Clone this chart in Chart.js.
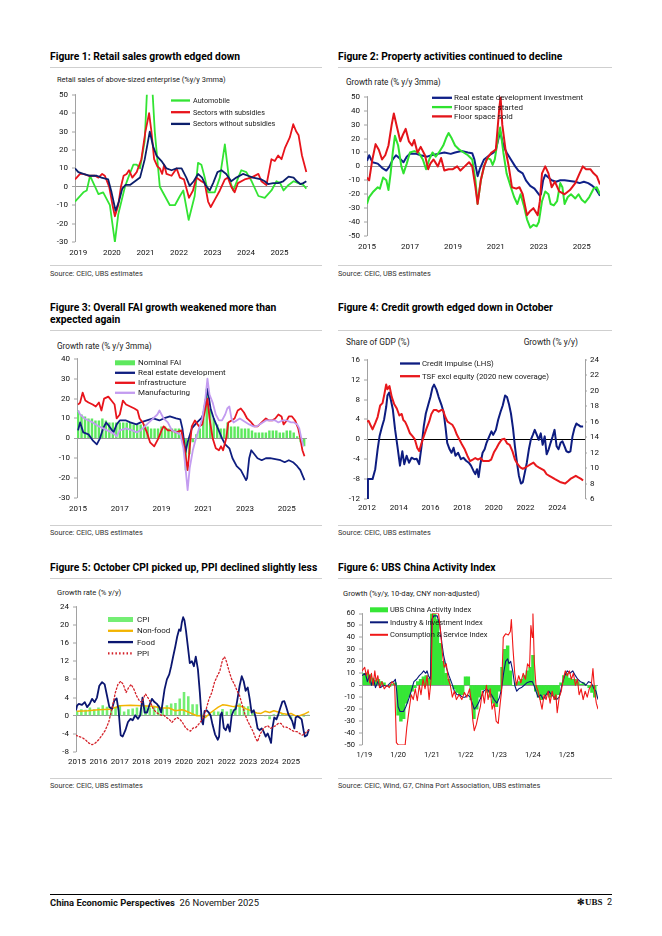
<!DOCTYPE html>
<html>
<head>
<meta charset="utf-8">
<title>China Economic Perspectives</title>
<script src="https://cdn.jsdelivr.net/npm/chart.js@4.4.1/dist/chart.umd.min.js"></script>
<style>
  html, body { margin: 0; padding: 0; background: #fff; }
  body { position: relative; width: 662px; height: 936px; overflow: hidden; font-family: Roboto, 'Liberation Sans', sans-serif; color: #111; }
  .abs { position: absolute; white-space: nowrap; line-height: 1; }
  .ttl { font-weight: 700; font-size: 10.3px; color: #000; }
  .sub { font-size: 7.9px; color: #222; }
  .src { font-size: 7.3px; color: #333; }
  .rule { position: absolute; height: 0; border-top: 1px solid #cfcfcf; }
  canvas { position: absolute; }
</style>
</head>
<body>

<!-- row 1 -->
<div class="abs ttl" style="left:50px;top:52px">Figure 1: Retail sales growth edged down</div>
<div class="rule" style="left:50px;top:67px;width:272px"></div>
<div class="abs sub" style="left:57px;top:75.5px;font-size:7.45px">Retail sales of above-sized enterprise (%y/y 3mma)</div>
<canvas id="c1" width="264" height="170" style="left:48px;top:86px"></canvas>
<div class="rule" style="left:50px;top:265px;width:272px"></div>
<div class="abs src" style="left:50px;top:270px">Source: CEIC, UBS estimates</div>

<div class="abs ttl" style="left:338px;top:52px">Figure 2: Property activities continued to decline</div>
<div class="rule" style="left:338px;top:67px;width:274px"></div>
<div class="abs sub" style="left:346px;top:77.5px;font-size:8.2px">Growth rate (% y/y 3mma)</div>
<canvas id="c2" width="268" height="163" style="left:336px;top:88px"></canvas>
<div class="rule" style="left:338px;top:265px;width:274px"></div>
<div class="abs src" style="left:338px;top:270px">Source: CEIC, UBS estimates</div>

<!-- row 2 -->
<div class="abs ttl" style="left:50px;top:302px;line-height:12px">Figure 3: Overall FAI growth weakened more than<br>expected again</div>
<div class="rule" style="left:50px;top:330px;width:272px"></div>
<div class="abs sub" style="left:57px;top:341.5px;font-size:8.2px">Growth rate (% y/y 3mma)</div>
<canvas id="c3" width="263" height="162" style="left:48px;top:350px"></canvas>
<div class="rule" style="left:50px;top:525px;width:272px"></div>
<div class="abs src" style="left:50px;top:529px">Source: CEIC, UBS estimates</div>

<div class="abs ttl" style="left:338px;top:303px">Figure 4: Credit growth edged down in October</div>
<div class="rule" style="left:338px;top:330px;width:274px"></div>
<div class="abs sub" style="left:346px;top:337.5px;font-size:8.4px">Share of GDP (%)</div>
<div class="abs sub" style="right:84px;top:337.5px;font-size:8.4px">Growth (% y/y)</div>
<canvas id="c4" width="279" height="162" style="left:336px;top:351px"></canvas>
<div class="rule" style="left:338px;top:525px;width:274px"></div>
<div class="abs src" style="left:338px;top:529px">Source: CEIC, UBS estimates</div>

<!-- row 3 -->
<div class="abs ttl" style="left:50px;top:563px">Figure 5: October CPI picked up, PPI declined slightly less</div>
<div class="rule" style="left:50px;top:578px;width:272px"></div>
<div class="abs sub" style="left:57px;top:588.5px;font-size:7.6px">Growth rate (% y/y)</div>
<canvas id="c5" width="266" height="168" style="left:48px;top:598px"></canvas>
<div class="rule" style="left:50px;top:778px;width:272px"></div>
<div class="abs src" style="left:50px;top:782px">Source: CEIC, UBS estimates</div>

<div class="abs ttl" style="left:338px;top:563px">Figure 6: UBS China Activity Index</div>
<div class="rule" style="left:338px;top:578px;width:274px"></div>
<div class="abs sub" style="left:343px;top:589.5px;font-size:7.6px">Growth (%y/y, 10-day, CNY non-adjusted)</div>
<canvas id="c6" width="266" height="154" style="left:336px;top:605px"></canvas>
<div class="rule" style="left:338px;top:778px;width:274px"></div>
<div class="abs src" style="left:338px;top:782px">Source: CEIC, Wind, G7, China Port Association, UBS estimates</div>

<!-- footer -->
<div class="rule" style="left:50px;top:894px;width:562px;border-top-color:#000"></div>
<div class="abs" style="left:50px;top:897.5px;font-size:9.4px"><b>China Economic Perspectives</b>&nbsp; 26 November 2025</div>
<div class="abs" style="right:50px;top:897.5px;font-size:9px"><span style="font-family:'Liberation Serif',serif;font-weight:700">&#10043;UBS</span>&nbsp; 2</div>

<script>
// ---------- Figure 1: retail sales ----------
const f1XTicks = [2019, 2020, 2021, 2022, 2023, 2024, 2025];
const f1XLabels = ['2019', '2020', '2021', '2022', '2023', '2024', '2025'];
const f1YTicks = [-30, -20, -10, 0, 10, 20, 30, 40, 50];
const f1Auto = [[2018.9,-8],[2019.15,-3],[2019.25,-2],[2019.35,6],[2019.6,-4],[2019.74,-3],[2019.94,-10],[2020.09,-30],[2020.19,-15],[2020.39,0],[2020.49,5],[2020.64,12],[2020.74,12],[2020.84,10],[2020.98,25],[2021.08,65],[2021.18,62],[2021.28,30],[2021.38,10],[2021.43,0],[2021.58,-5],[2021.73,-10],[2021.88,-10],[2022.03,-5],[2022.13,-2],[2022.29,-18],[2022.47,-5],[2022.57,13],[2022.67,12],[2022.77,5],[2022.87,-3],[2023.07,-3],[2023.22,5],[2023.37,23],[2023.49,5],[2023.62,-2],[2023.77,5],[2023.86,9],[2024.01,8],[2024.17,3],[2024.37,-5],[2024.56,-6],[2024.76,-2],[2024.91,3],[2025.02,2],[2025.12,-2],[2025.27,1],[2025.42,3],[2025.56,2],[2025.71,1],[2025.8,-1]];
const f1Sub = [[2018.9,4],[2018.95,5],[2019.05,7],[2019.15,7],[2019.3,6],[2019.5,6],[2019.6,5],[2019.71,7],[2019.79,6],[2019.92,0],[2020.02,-10],[2020.09,-16],[2020.19,-10],[2020.27,0],[2020.35,6],[2020.44,7],[2020.51,9],[2020.61,5],[2020.74,8],[2020.88,15],[2021.0,30],[2021.11,40],[2021.18,30],[2021.26,15],[2021.36,11],[2021.43,10],[2021.5,7],[2021.56,12],[2021.63,7],[2021.78,6],[2021.93,10],[2022.03,5],[2022.15,4],[2022.3,-6],[2022.42,-2],[2022.52,5],[2022.67,3],[2022.77,2],[2022.87,-8],[2022.95,-11],[2023.07,-7],[2023.22,-2],[2023.37,4],[2023.46,5],[2023.56,0],[2023.66,-3],[2023.76,2],[2023.96,4],[2024.16,5],[2024.37,7],[2024.46,3],[2024.61,1],[2024.76,15],[2024.86,14],[2024.96,17],[2025.06,15],[2025.16,21],[2025.31,27],[2025.41,34],[2025.5,30],[2025.57,28],[2025.67,17],[2025.8,8]];
const f1NoSub = [[2018.9,10],[2019.0,8],[2019.15,7],[2019.35,6],[2019.55,6],[2019.69,5],[2019.89,4],[2019.99,-3],[2020.11,-13],[2020.21,-8],[2020.31,-1],[2020.41,1],[2020.54,1],[2020.69,3],[2020.84,5],[2020.98,15],[2021.13,30],[2021.23,22],[2021.33,17],[2021.48,14],[2021.63,10],[2021.78,9],[2021.93,10],[2022.08,10],[2022.22,5],[2022.32,0.5],[2022.44,3],[2022.57,7],[2022.69,5],[2022.79,1],[2022.92,-2],[2023.02,2],[2023.15,8],[2023.27,9],[2023.41,7],[2023.56,3],[2023.71,5],[2023.91,7],[2024.06,6],[2024.21,5],[2024.46,4],[2024.56,3],[2024.66,1.5],[2024.81,2],[2024.96,2],[2025.11,3],[2025.27,5.5],[2025.42,5],[2025.52,3],[2025.62,1.5],[2025.71,2],[2025.8,3]];

// ---------- Figure 2: property ----------
const f2XTicks = [2015, 2017, 2019, 2021, 2023, 2025];
const f2XLabels = ['2015', '2017', '2019', '2021', '2023', '2025'];
const f2YTicks = [-50, -40, -30, -20, -10, 0, 10, 20, 30, 40, 50];
const f2Invest = [[2015.0,4],[2015.1,8],[2015.25,3],[2015.5,2],[2015.7,-1],[2015.9,-3],[2016.05,0],[2016.2,5],[2016.35,8],[2016.5,6],[2016.7,3],[2016.85,7],[2017.0,9],[2017.3,9],[2017.5,8],[2017.8,7],[2018.0,8],[2018.3,9],[2018.6,10],[2018.9,9],[2019.1,10],[2019.4,11],[2019.7,10],[2019.9,9.5],[2020.0,5],[2020.15,-7],[2020.25,-2],[2020.45,5],[2020.7,8],[2020.9,10],[2021.0,12],[2021.2,25],[2021.35,15],[2021.5,10],[2021.7,5],[2021.9,0],[2022.05,-3],[2022.25,-5],[2022.4,-10],[2022.6,-14],[2022.8,-16],[2022.95,-19],[2023.05,-21],[2023.1,-20],[2023.2,-10],[2023.3,-6],[2023.45,-8],[2023.6,-10],[2023.8,-11],[2024.0,-10],[2024.2,-10],[2024.45,-10.5],[2024.7,-11],[2024.9,-12],[2025.1,-11],[2025.3,-12],[2025.5,-14],[2025.65,-16],[2025.85,-21]];
const f2Started = [[2015.0,-27],[2015.1,-22],[2015.3,-18],[2015.5,-15],[2015.6,-16],[2015.75,-8],[2015.9,-10],[2016.0,-17],[2016.1,-5],[2016.2,10],[2016.3,22],[2016.45,15],[2016.6,0],[2016.7,-5],[2016.85,2],[2017.0,10],[2017.2,11],[2017.4,10],[2017.6,5],[2017.75,-2],[2017.9,5],[2018.05,10],[2018.2,7],[2018.35,10],[2018.55,15],[2018.7,21],[2018.8,24],[2018.95,20],[2019.1,15],[2019.3,12],[2019.5,10],[2019.7,8],[2019.9,5],[2020.05,-10],[2020.15,-27],[2020.3,-10],[2020.45,0],[2020.6,6],[2020.75,5],[2020.85,1],[2020.95,5],[2021.1,20],[2021.2,28],[2021.35,10],[2021.5,-5],[2021.7,-15],[2021.85,-22],[2022.0,-27],[2022.15,-20],[2022.3,-28],[2022.45,-38],[2022.6,-44],[2022.75,-42],[2022.9,-43],[2023.0,-40],[2023.15,-25],[2023.3,-18],[2023.45,-20],[2023.55,-27],[2023.7,-28],[2023.85,-25],[2024.0,-12],[2024.1,-15],[2024.2,-27],[2024.35,-22],[2024.5,-20],[2024.7,-23],[2024.85,-20],[2025.0,-24],[2025.15,-26],[2025.35,-22],[2025.55,-16],[2025.7,-15],[2025.85,-20]];
const f2Sold = [[2015.0,-8],[2015.1,-10],[2015.25,5],[2015.4,16],[2015.55,12],[2015.7,5],[2015.85,8],[2016.0,15],[2016.15,30],[2016.25,38],[2016.4,28],[2016.55,18],[2016.65,22],[2016.8,27],[2016.95,18],[2017.1,15],[2017.2,19],[2017.35,10],[2017.5,14],[2017.7,8],[2017.85,-2],[2017.95,2],[2018.1,5],[2018.3,0],[2018.45,6],[2018.6,-3],[2018.8,-2],[2019.0,-2],[2019.2,0],[2019.35,-3],[2019.55,0],[2019.75,3],[2019.9,0],[2020.05,-15],[2020.15,-27],[2020.3,-10],[2020.45,0],[2020.6,6],[2020.8,10],[2021.0,12],[2021.15,40],[2021.22,50],[2021.3,30],[2021.45,12],[2021.6,0],[2021.75,-15],[2021.95,-16],[2022.1,-15],[2022.25,-20],[2022.45,-35],[2022.6,-32],[2022.75,-30],[2022.95,-35],[2023.05,-25],[2023.15,-5],[2023.3,0],[2023.45,-5],[2023.6,-15],[2023.75,-11],[2023.95,-18],[2024.2,-20],[2024.45,-17],[2024.7,-12],[2024.9,-5],[2025.05,0],[2025.2,-2],[2025.4,-2],[2025.55,-5],[2025.7,-7],[2025.85,-13]];

// ---------- Figure 3: FAI ----------
const f3XTicks = [2015, 2017, 2019, 2021, 2023, 2025];
const f3XLabels = ['2015', '2017', '2019', '2021', '2023', '2025'];
const f3YTicks = [-30, -20, -10, 0, 10, 20, 30, 40];
const f3FaiStart = 2015, f3FaiStep = 1 / 6; // bimonthly readings
const f3Fai = [14,12,11,10,10,9, 9,10,9,8,8,8, 8,8,8,8,7,7, 7,7,6,5,5,5, 6,6,5,5,5,5, 2,-16,-8,-2,2,5, 10,25,15,10,7,5, 5,8,6,6,6,5, 5,5,4,3,3,3, 3,4,4,4,3,3, 4,4,3,1,-2,-4];
const f3Infra = [[2015.0,17],[2015.1,18],[2015.22,23],[2015.35,19],[2015.5,18],[2015.7,17],[2015.85,16],[2016.0,18],[2016.12,14],[2016.25,20],[2016.45,21],[2016.6,19],[2016.75,17],[2016.85,10],[2017.0,12],[2017.15,19],[2017.3,17],[2017.5,16],[2017.7,15],[2017.85,14],[2017.95,10],[2018.1,8],[2018.3,3],[2018.45,-2],[2018.65,-4],[2018.85,0],[2019.0,4],[2019.1,6],[2019.3,4],[2019.5,4],[2019.7,3],[2019.95,4],[2020.1,-5],[2020.25,-16],[2020.35,-5],[2020.45,6],[2020.6,9],[2020.8,6],[2020.95,7],[2021.1,15],[2021.2,20],[2021.3,10],[2021.45,0],[2021.6,-5],[2021.75,-6],[2021.85,-4],[2021.95,-6],[2022.1,0],[2022.2,8],[2022.35,9],[2022.5,10],[2022.65,14],[2022.8,15],[2022.95,13],[2023.1,10],[2023.3,8],[2023.45,6],[2023.6,6],[2023.8,8],[2024.0,10],[2024.15,9],[2024.3,9],[2024.45,10],[2024.6,12],[2024.75,11],[2024.85,7],[2025.0,9],[2025.1,11],[2025.25,11],[2025.4,9],[2025.55,5],[2025.65,0],[2025.75,-6],[2025.85,-9]];
const f3Manuf = [[2015.0,14],[2015.1,12],[2015.3,10],[2015.5,9],[2015.7,8],[2015.85,7],[2016.0,6],[2016.2,5],[2016.4,4],[2016.6,3],[2016.75,2],[2016.85,1],[2017.0,4],[2017.3,5],[2017.6,4],[2017.8,3],[2018.0,4],[2018.2,6],[2018.4,8],[2018.6,10],[2018.8,12],[2018.9,14],[2019.1,10],[2019.3,8],[2019.5,4],[2019.7,3],[2019.9,2],[2020.05,-5],[2020.15,-15],[2020.25,-26],[2020.35,-15],[2020.5,-6],[2020.65,0],[2020.8,5],[2020.95,10],[2021.1,20],[2021.2,30],[2021.3,22],[2021.45,18],[2021.6,12],[2021.75,9],[2021.9,9],[2022.05,12],[2022.15,15],[2022.25,16],[2022.35,10],[2022.45,8],[2022.6,9],[2022.75,10],[2022.9,9],[2023.05,8],[2023.2,7],[2023.4,6],[2023.55,6],[2023.7,7],[2023.85,8],[2024.0,9],[2024.15,9],[2024.3,9],[2024.45,9],[2024.6,8],[2024.8,9],[2025.0,9],[2025.2,8],[2025.35,8],[2025.5,7],[2025.6,5],[2025.7,0],[2025.8,-4]];

// ---------- Figure 4: credit ----------
const f4XTicks = [2012, 2014, 2016, 2018, 2020, 2022, 2024];
const f4XLabels = ['2012', '2014', '2016', '2018', '2020', '2022', '2024'];
const f4YTicks = [-12, -8, -4, 0, 4, 8, 12, 16];
const f4Y2Ticks = [6, 8, 10, 12, 14, 16, 18, 20, 22, 24];
const f4Impulse = [[2012.0,-12],[2012.06,-8],[2012.21,-8],[2012.35,-8],[2012.52,-6],[2012.67,-2],[2012.79,0.6],[2012.94,2.5],[2013.08,4],[2013.21,6.5],[2013.29,8.8],[2013.4,9.4],[2013.5,8],[2013.63,6],[2013.77,2],[2013.92,-1.4],[2014.08,-5.3],[2014.23,-2.4],[2014.35,-5],[2014.5,-3.3],[2014.65,-4.7],[2014.81,-3.7],[2014.98,-4],[2015.13,-3.9],[2015.29,-5],[2015.44,-1.4],[2015.58,2.6],[2015.71,5.2],[2015.85,6.8],[2016.0,8.5],[2016.13,10.4],[2016.23,11],[2016.38,10],[2016.52,8.5],[2016.69,7],[2016.83,5.5],[2016.96,2.2],[2017.06,-0.7],[2017.21,-2],[2017.33,-2.7],[2017.46,-1.7],[2017.58,-3.3],[2017.75,-2.7],[2017.92,-4],[2018.08,-3.7],[2018.25,-4.3],[2018.42,-4.7],[2018.56,-5.3],[2018.71,-6.3],[2018.83,-7],[2018.94,-6],[2019.04,-7.6],[2019.15,-5],[2019.29,-2.7],[2019.42,-2],[2019.54,-0.7],[2019.71,0.6],[2019.85,1.6],[2019.96,0.9],[2020.13,1.9],[2020.27,3.9],[2020.42,5.5],[2020.56,6.8],[2020.71,8.8],[2020.83,8.5],[2020.96,7],[2021.08,5.2],[2021.21,2.2],[2021.33,-1.4],[2021.46,-4.7],[2021.58,-7.3],[2021.71,-8.9],[2021.83,-8.6],[2021.96,-6.6],[2022.08,-4.7],[2022.21,-2],[2022.33,-0.1],[2022.46,0.9],[2022.58,1.9],[2022.71,0.9],[2022.83,-0.1],[2022.96,1.2],[2023.08,-1.1],[2023.21,0.6],[2023.33,-3],[2023.46,-2],[2023.58,-0.7],[2023.71,0.6],[2023.83,1.9],[2023.96,-1.4],[2024.08,-2],[2024.21,-0.7],[2024.33,-0.4],[2024.46,-1.4],[2024.58,-2.4],[2024.71,-2.6],[2024.83,-2.4],[2024.96,0.6],[2025.08,2.2],[2025.21,3.2],[2025.33,2.9],[2025.46,2.6],[2025.63,2.6]];
const f4Tsf = [[2012.0,16],[2012.1,16.1],[2012.21,15.6],[2012.35,15],[2012.52,15.8],[2012.67,16.6],[2012.83,18.1],[2012.98,18.4],[2013.1,19.6],[2013.21,20.8],[2013.29,20.2],[2013.42,20.6],[2013.56,19.2],[2013.71,18.3],[2013.88,17.7],[2014.04,16.8],[2014.19,17],[2014.29,16.2],[2014.4,16],[2014.54,15.4],[2014.71,14.5],[2014.88,14.1],[2015.02,13.7],[2015.17,12.6],[2015.29,12.2],[2015.44,13.2],[2015.58,14.1],[2015.75,15.1],[2015.92,16],[2016.06,17],[2016.21,17.5],[2016.38,17.5],[2016.52,17.3],[2016.67,17.5],[2016.79,17.5],[2016.94,16.6],[2017.08,16],[2017.23,15.8],[2017.38,15.6],[2017.52,15.1],[2017.67,14.3],[2017.83,13.7],[2018.0,13],[2018.17,12.4],[2018.33,11.6],[2018.5,10.9],[2018.67,11.1],[2018.83,11.3],[2019.0,11.1],[2019.17,11.3],[2019.33,10.9],[2019.5,10.9],[2019.67,10.9],[2019.83,11.1],[2020.0,12],[2020.17,12.6],[2020.33,13.2],[2020.5,13.7],[2020.67,13.8],[2020.83,13.2],[2021.0,13],[2021.17,12.2],[2021.33,11.1],[2021.5,10.5],[2021.67,10.1],[2021.83,9.9],[2022.0,10.1],[2022.17,10.3],[2022.33,10.5],[2022.5,10.7],[2022.67,10.3],[2022.83,10.1],[2023.0,9.9],[2023.17,9.7],[2023.33,9.2],[2023.5,9],[2023.67,8.8],[2023.83,8.6],[2024.0,8.4],[2024.17,8.2],[2024.33,8.1],[2024.5,8],[2024.67,8.3],[2024.83,8.6],[2025.0,8.8],[2025.17,9],[2025.33,8.8],[2025.5,8.6],[2025.63,8.4]];

// ---------- Figure 5: CPI / PPI ----------
const f5XTicks = [2015, 2016, 2017, 2018, 2019, 2020, 2021, 2022, 2023, 2024, 2025];
const f5XLabels = ['2015', '2016', '2017', '2018', '2019', '2020', '2021', '2022', '2023', '2024', '2025'];
const f5YTicks = [-8, -4, 0, 4, 8, 12, 16, 20, 24];
const f5CpiStart = 2015, f5CpiStep = 0.2;
const f5Cpi = [1.0,1.4,1.3,1.8,1.4, 1.8,2.3,2.0,1.5,2.0, 2.3,0.9,1.4,1.6,1.8, 1.8,2.1,1.8,2.2,2.3, 1.7,2.3,2.7,2.8,3.8, 5.2,4.3,2.5,2.5,0.5, -0.3,0.4,1.0,0.9,1.5, 0.9,1.5,2.1,2.7,2.1, 2.1,0.7,0.1,0.0,-0.2, -0.8,0.3,0.3,0.6,0.3, -0.7,-0.1,-0.1,-0.3,0.2];
const f5NonFood = [[2015.0,1.0],[2015.5,1.1],[2016.0,1.3],[2016.5,1.4],[2016.8,1.8],[2017.0,2.2],[2017.5,2.3],[2018.0,2.2],[2018.5,2.1],[2019.0,1.7],[2019.3,1.7],[2019.6,1.1],[2019.9,1.3],[2020.0,1.2],[2020.3,0.6],[2020.6,0.0],[2020.8,0],[2021.0,-0.4],[2021.2,0.5],[2021.4,1.2],[2021.6,1.9],[2021.8,2.4],[2022.0,2.3],[2022.3,2.0],[2022.5,2.2],[2022.7,2.0],[2022.9,1.5],[2023.2,1.0],[2023.4,0.6],[2023.6,0.5],[2023.8,1.0],[2024.0,0.7],[2024.2,1.1],[2024.4,0.8],[2024.6,0.5],[2024.8,0.3],[2025.0,0.5],[2025.2,0.0],[2025.4,0.0],[2025.6,0.3],[2025.85,0.9]];
const f5Food = [[2014.95,1.2],[2015.0,2.2],[2015.08,2.6],[2015.23,2.4],[2015.36,3],[2015.47,1.9],[2015.59,2.6],[2015.7,3.7],[2015.82,3],[2015.93,4],[2016.04,6.6],[2016.17,7.4],[2016.29,6.9],[2016.4,4.4],[2016.51,1.9],[2016.63,1.5],[2016.74,3.3],[2016.85,3.8],[2016.94,1.2],[2017.04,-4.3],[2017.13,-4.6],[2017.26,-3.2],[2017.38,-1.4],[2017.5,-0.7],[2017.6,-1],[2017.72,0.1],[2017.85,-0.7],[2017.95,0.1],[2018.06,4],[2018.16,0.7],[2018.27,0.7],[2018.37,2.2],[2018.5,3.7],[2018.62,3],[2018.73,2.6],[2018.84,1.9],[2018.93,0.7],[2019.0,2.9],[2019.09,5.8],[2019.2,8],[2019.31,9.1],[2019.4,10.9],[2019.49,13],[2019.59,15.2],[2019.68,17.4],[2019.77,19],[2019.84,18.7],[2019.9,20.6],[2019.96,21.7],[2020.02,21],[2020.09,18.8],[2020.18,15.2],[2020.27,11.6],[2020.37,12],[2020.46,10.9],[2020.55,13],[2020.65,10.2],[2020.74,5.1],[2020.83,-1.2],[2020.89,-1.9],[2020.96,1],[2021.05,1.2],[2021.14,0.8],[2021.24,0.1],[2021.33,-1.9],[2021.45,-4.1],[2021.58,-5.3],[2021.64,-4.6],[2021.7,0.1],[2021.77,0.7],[2021.86,-2.7],[2021.95,-3.2],[2022.05,-1.9],[2022.14,-3.5],[2022.23,0.1],[2022.33,1.2],[2022.42,1.5],[2022.51,4],[2022.6,6.6],[2022.7,8.7],[2022.79,7.6],[2022.88,5.5],[2022.98,6.2],[2023.07,3.7],[2023.16,0.7],[2023.26,1.2],[2023.35,-0.4],[2023.44,-2.8],[2023.54,-3.2],[2023.63,-2.8],[2023.72,-3.5],[2023.82,-4.6],[2023.91,-3.9],[2024.0,-5],[2024.07,-6],[2024.13,-2.8],[2024.22,-0.4],[2024.32,-0.8],[2024.41,0.3],[2024.5,1.7],[2024.6,3.1],[2024.69,3.2],[2024.78,1.9],[2024.88,0.3],[2024.97,-0.4],[2025.06,-1.2],[2025.16,-2.8],[2025.22,-0.4],[2025.31,-0.1],[2025.4,-0.4],[2025.5,-0.8],[2025.59,-3.2],[2025.65,-4.6],[2025.75,-4.3],[2025.84,-3]];
const f5Ppi = [[2014.95,-4.3],[2015.08,-4.6],[2015.23,-4.8],[2015.39,-5.3],[2015.54,-6],[2015.7,-6.4],[2015.86,-6],[2016.01,-5.3],[2016.17,-4.3],[2016.32,-3.2],[2016.48,-1.4],[2016.63,1.5],[2016.79,5.1],[2016.91,6.9],[2017.04,7.6],[2017.16,6.9],[2017.29,5.1],[2017.41,6.2],[2017.53,6.9],[2017.66,5.8],[2017.78,4.4],[2017.91,3.3],[2018.03,2.9],[2018.19,4.8],[2018.31,4],[2018.44,2.9],[2018.56,1.5],[2018.69,0.8],[2018.81,0.4],[2018.93,0.1],[2019.06,0.1],[2019.18,-0.4],[2019.31,-0.8],[2019.43,-1.5],[2019.56,-0.8],[2019.68,-0.4],[2019.81,-0.8],[2019.93,-1.5],[2020.05,-2.5],[2020.18,-3.1],[2020.3,-3.4],[2020.43,-2.7],[2020.55,-2.6],[2020.68,-1.9],[2020.8,-1.2],[2020.93,-0.1],[2021.05,1.7],[2021.17,3.7],[2021.3,5.1],[2021.42,7.3],[2021.55,8.7],[2021.67,9.8],[2021.8,12.3],[2021.89,13],[2021.98,12],[2022.11,9.8],[2022.23,8],[2022.36,6.9],[2022.48,5.5],[2022.6,4.4],[2022.73,2.2],[2022.85,0.3],[2022.98,-1.2],[2023.1,-2.3],[2023.23,-3.5],[2023.35,-5],[2023.44,-5.7],[2023.54,-4.3],[2023.66,-3.2],[2023.79,-2.5],[2023.91,-2.2],[2024.04,-2.8],[2024.16,-2.5],[2024.28,-2.2],[2024.41,-1.7],[2024.53,-1.7],[2024.66,-2.5],[2024.78,-2.5],[2024.91,-2.8],[2025.03,-3.2],[2025.16,-3.5],[2025.28,-3.5],[2025.4,-3.9],[2025.53,-4.3],[2025.65,-3.9],[2025.81,-3.2]];

// ---------- Figure 6: UBS China Activity Index ----------
const f6XTicks = [2019, 2020, 2021, 2022, 2023, 2024, 2025];
const f6XLabels = ['1/19', '1/20', '1/21', '1/22', '1/23', '1/24', '1/25'];
const f6YTicks = [-50, -40, -30, -20, -10, 0, 10, 20, 30, 40, 50, 60];
const f6ActStart = 2019, f6ActStep = 1 / 12; // monthly readings
const f6Act = [10,10,9,6,4,5,3,2,0,-1,1,2, -25,-30,-28,-15,-10,-5,-2,3,5,7,8,6, 60,60,55,35,20,10,5,0,-3,-6,-8,-8, 7,7,-12,-28,-20,-10,-4,-3,-6,-10,-15,-18, -5,15,30,33,12,0,2,3,5,8,12,15, 25,-5,-10,-12,-8,-8,-10,-8,-12,-8,2,8, 10,6,5,5,3,1,2,0,-2,-6,-10];
const f6Ind = [[2018.93,8],[2019.03,10],[2019.09,3],[2019.15,8],[2019.21,0],[2019.27,5],[2019.33,-2],[2019.4,3],[2019.48,-2],[2019.57,0],[2019.67,-1],[2019.77,2],[2019.87,3],[2019.92,5],[2019.96,-5],[2020.0,-18],[2020.06,-22],[2020.16,-22],[2020.23,-18],[2020.31,-12],[2020.39,-5],[2020.47,3],[2020.55,5],[2020.63,8],[2020.7,10],[2020.76,12],[2020.82,10],[2020.86,12],[2020.9,8],[2020.96,5],[2021.0,55],[2021.06,58],[2021.16,58],[2021.24,50],[2021.3,35],[2021.35,25],[2021.43,15],[2021.51,8],[2021.59,2],[2021.67,-5],[2021.75,-8],[2021.83,-8],[2021.91,-10],[2021.99,-10],[2022.06,-8],[2022.14,-10],[2022.2,-15],[2022.26,-20],[2022.32,-18],[2022.38,-15],[2022.46,-10],[2022.54,-5],[2022.62,-3],[2022.69,-5],[2022.77,-8],[2022.85,-12],[2022.93,-15],[2023.01,-10],[2023.07,-3],[2023.13,10],[2023.19,20],[2023.25,22],[2023.29,18],[2023.34,20],[2023.4,12],[2023.46,0],[2023.52,-5],[2023.58,-3],[2023.66,-2],[2023.74,0],[2023.82,2],[2023.9,3],[2023.98,3],[2024.03,0],[2024.09,-5],[2024.15,-10],[2024.23,-8],[2024.31,-12],[2024.39,-8],[2024.47,-5],[2024.55,-8],[2024.63,-10],[2024.7,-12],[2024.78,-10],[2024.86,0],[2024.94,8],[2025.02,12],[2025.1,10],[2025.18,12],[2025.26,8],[2025.33,5],[2025.41,3],[2025.49,2],[2025.57,0],[2025.65,3],[2025.73,2],[2025.81,-3],[2025.87,-5],[2025.93,-12]];
const f6Cons = [[2018.93,12],[2019.01,15],[2019.06,8],[2019.11,13],[2019.16,2],[2019.21,10],[2019.26,0],[2019.31,12],[2019.35,3],[2019.4,8],[2019.45,-2],[2019.52,3],[2019.59,-3],[2019.67,0],[2019.74,-2],[2019.82,3],[2019.9,0],[2019.95,-48],[2020.01,-50],[2020.11,-50],[2020.21,-50],[2020.26,-35],[2020.33,-20],[2020.39,-8],[2020.45,-12],[2020.51,-3],[2020.57,-13],[2020.63,0],[2020.68,-8],[2020.74,5],[2020.8,-3],[2020.86,8],[2020.92,-12],[2020.98,5],[2021.02,60],[2021.1,60],[2021.2,60],[2021.26,45],[2021.32,25],[2021.37,15],[2021.43,18],[2021.49,5],[2021.55,0],[2021.61,-10],[2021.67,-5],[2021.73,-12],[2021.81,-8],[2021.89,-12],[2021.97,-6],[2022.04,-10],[2022.12,-3],[2022.18,-15],[2022.22,-30],[2022.26,-38],[2022.32,-33],[2022.38,-25],[2022.44,-18],[2022.5,-5],[2022.56,-15],[2022.62,0],[2022.67,-12],[2022.73,-3],[2022.79,-20],[2022.85,-15],[2022.91,-30],[2022.97,-32],[2023.03,-15],[2023.07,-5],[2023.12,40],[2023.19,43],[2023.27,42],[2023.33,45],[2023.36,55],[2023.41,30],[2023.46,10],[2023.51,0],[2023.58,8],[2023.64,2],[2023.71,10],[2023.78,5],[2023.84,18],[2023.9,15],[2023.94,50],[2023.98,40],[2024.0,60],[2024.04,20],[2024.09,0],[2024.15,-5],[2024.21,-12],[2024.27,-20],[2024.33,-8],[2024.39,-12],[2024.45,-5],[2024.51,-15],[2024.57,-5],[2024.63,-12],[2024.68,-8],[2024.72,-23],[2024.78,-10],[2024.84,-5],[2024.9,5],[2024.96,12],[2025.02,8],[2025.08,12],[2025.14,5],[2025.2,10],[2025.26,0],[2025.32,5],[2025.37,-8],[2025.43,-3],[2025.49,-12],[2025.55,-5],[2025.61,-10],[2025.67,-3],[2025.73,0],[2025.78,14],[2025.83,-5],[2025.88,-15],[2025.93,-20]];

// ---------- shared setup ----------
Chart.defaults.font.family = "Roboto, 'Liberation Sans', sans-serif";
Chart.defaults.font.size = 8;
Chart.defaults.color = '#111';
Chart.defaults.animation = false;
Chart.defaults.events = [];
Chart.defaults.plugins.legend.display = false;
Chart.defaults.plugins.tooltip.enabled = false;

const AXIS = '#8a8a8a';
const pts = arr => arr.map(p => ({ x: p[0], y: p[1] }));
const regular = (start, step, vals) => vals.map((v, i) => ({ x: start + i * step, y: v }));

// legend drawn inside the plot, one row per dataset, like the Excel originals
const insideLegend = {
  id: 'insideLegend',
  afterDatasetsDraw(chart, args, o) {
    const ctx = chart.ctx, a = chart.chartArea;
    ctx.save();
    ctx.font = `${o.size}px Roboto, 'Liberation Sans', sans-serif`;
    ctx.textBaseline = 'middle';
    chart.data.datasets.forEach((ds, i) => {
      const y = a.top + o.y + i * o.step;
      const x0 = a.left + o.x;
      if (ds.type === 'bar') {
        ctx.fillStyle = ds.backgroundColor;
        ctx.fillRect(x0, y - 2.5, o.len, 5);
      } else {
        ctx.strokeStyle = ds.borderColor;
        ctx.lineWidth = o.lw;
        ctx.setLineDash(ds.borderDash || []);
        ctx.beginPath(); ctx.moveTo(x0, y); ctx.lineTo(x0 + o.len, y); ctx.stroke();
        ctx.setLineDash([]);
      }
      ctx.fillStyle = '#1a1a1a';
      ctx.fillText(ds.label, x0 + o.len + o.gap, y + 0.5);
    });
    ctx.restore();
  }
};

function line(label, data, color, width, extra) {
  return Object.assign({ type: 'line', label, data, borderColor: color, backgroundColor: color,
    borderWidth: width, pointRadius: 0, tension: 0, borderJoinStyle: 'round', fill: false }, extra || {});
}

function bars(label, data, color, pct) {
  return { type: 'bar', label, data, backgroundColor: color, borderWidth: 0,
    barPercentage: pct, categoryPercentage: 1, order: 10 };
}

function xAxis(min, max, ticks, labels, h, size, pad) {
  return {
    type: 'linear', min, max, offset: false,
    afterBuildTicks: s => { s.ticks = ticks.map(v => ({ value: v })); },
    afterFit: s => { s.height = h; },
    ticks: { autoSkip: false, maxRotation: 0, padding: pad != null ? pad : 6, font: { size: size || 8 }, callback: (v, i) => labels[i] },
    grid: { display: false, drawTicks: false, offset: false },
    border: { display: false }
  };
}

function yAxis(ticks, w, o) {
  o = o || {};
  const right = o.pos === 'right';
  return {
    type: 'linear', position: right ? 'right' : 'left', min: ticks[0], max: ticks[ticks.length - 1],
    afterBuildTicks: s => { s.ticks = ticks.map(v => ({ value: v })); },
    afterFit: s => { s.width = w; },
    ticks: { autoSkip: false, padding: o.pad != null ? o.pad : 4, font: { size: o.size || 8 } },
    grid: {
      drawOnChartArea: !right,
      color: c => (c.tick && c.tick.value === 0 ? (o.zero || AXIS) : 'rgba(0,0,0,0)'),
      lineWidth: c => (c.tick && c.tick.value === 0 ? (o.zeroW || 0.9) : 0),
      tickLength: o.tl != null ? o.tl : 3, tickColor: AXIS, tickWidth: 0.8
    },
    border: { display: true, color: AXIS, width: 0.8 }
  };
}

function makeChart(id, datasets, scales, legend, pad) {
  datasets.forEach((d, i) => { if (d.order === undefined) d.order = -i; });
  return new Chart(document.getElementById(id), {
    type: 'line',
    data: { datasets },
    options: { responsive: false, layout: { padding: pad }, scales, plugins: { insideLegend: legend } },
    plugins: [insideLegend]
  });
}

// Figure 1
makeChart('c1', [
  line('Automobile', pts(f1Auto), '#33e433', 1.8),
  line('Sectors with subsidies', pts(f1Sub), '#e8141c', 1.8),
  line('Sectors without subsidies', pts(f1NoSub), '#0c1f6b', 1.8)
], {
  x: xAxis(2018.9, 2025.85, f1XTicks, f1XLabels, 14),
  y: yAxis(f1YTicks, 27)
}, { x: 96, y: 5.7, step: 11.7, len: 19, gap: 3, size: 7.2, lw: 2.3 }, { top: 6, right: 4, left: 0, bottom: 0 });

// Figure 2
makeChart('c2', [
  line('Real estate development investment', pts(f2Invest), '#0f2088', 2),
  line('Floor space started', pts(f2Started), '#2fe22f', 2),
  line('Floor space sold', pts(f2Sold), '#e3141a', 2)
], {
  x: xAxis(2015, 2025.85, f2XTicks, f2XLabels, 15),
  y: yAxis(f2YTicks, 31)
}, { x: 65, y: 1, step: 9.3, len: 20, gap: 2, size: 8, lw: 2.3 }, { top: 6, right: 4, left: 0, bottom: 0 });

// Figure 3
makeChart('c3', [
  bars('Nominal FAI', regular(f3FaiStart, f3FaiStep, f3Fai), '#5ee85e', 0.7),
  line('Real estate development', pts(f2Invest), '#0f1e80', 1.8),
  line('Infrastructure', pts(f3Infra), '#e8141c', 1.8),
  line('Manufacturing', pts(f3Manuf), '#c39cf0', 1.8)
], {
  x: xAxis(2014.95, 2025.97, f3XTicks, f3XLabels, 14),
  y: yAxis(f3YTicks, 29)
}, { x: 38, y: 4, step: 10, len: 20, gap: 3, size: 8, lw: 2.3 }, { top: 6, right: 4, left: 0, bottom: 0 });

// Figure 4
makeChart('c4', [
  line('Credit impulse (LHS)', pts(f4Impulse), '#0d1c80', 2),
  line('TSF excl equity (2020 new coverage)', pts(f4Tsf), '#e8181c', 2, { yAxisID: 'y2' })
], {
  x: xAxis(2012, 2025.75, f4XTicks, f4XLabels, 14, 8, 4),
  y: yAxis(f4YTicks, 31, { zero: '#000', zeroW: 1 }),
  y2: yAxis(f4Y2Ticks, 30, { pos: 'right', tl: 2, pad: 3 })
}, { x: 33, y: 3.7, step: 12.7, len: 20, gap: 2, size: 7.8, lw: 2.3 }, { top: 6, right: 0, left: 0, bottom: 0 });

// Figure 5
makeChart('c5', [
  bars('CPI', regular(f5CpiStart, f5CpiStep, f5Cpi), '#74ee74', 0.6),
  line('Non-food', pts(f5NonFood), '#f3b400', 1.5),
  line('Food', pts(f5Food), '#0b1670', 1.8),
  line('PPI', pts(f5Ppi), '#d42028', 1.3, { borderDash: [1.5, 2.2], borderCapStyle: 'round' })
], {
  x: xAxis(2014.95, 2025.89, f5XTicks, f5XLabels, 14, 8, 5),
  y: yAxis(f5YTicks, 28)
}, { x: 32, y: 12.7, step: 11.3, len: 25, gap: 4, size: 8, lw: 2.3 }, { top: 6, right: 4, left: 0, bottom: 0 });

// Figure 6
makeChart('c6', [
  bars('UBS China Activity Index', regular(f6ActStart, f6ActStep, f6Act), '#36e636', 1),
  line('Industry & Investment Index', pts(f6Ind), '#0a1a7a', 1.1),
  line('Consumption & Service Index', pts(f6Cons), '#f01818', 1.1)
], {
  x: xAxis(2018.93, 2025.93, f6XTicks, f6XLabels, 14, 7.5, 6),
  y: yAxis(f6YTicks, 26, { size: 7.5 })
}, { x: 8, y: -3.7, step: 12.5, len: 18, gap: 2, size: 7.5, lw: 2 }, { top: 7, right: 4, left: 0, bottom: 0 });
</script>
</body>
</html>
